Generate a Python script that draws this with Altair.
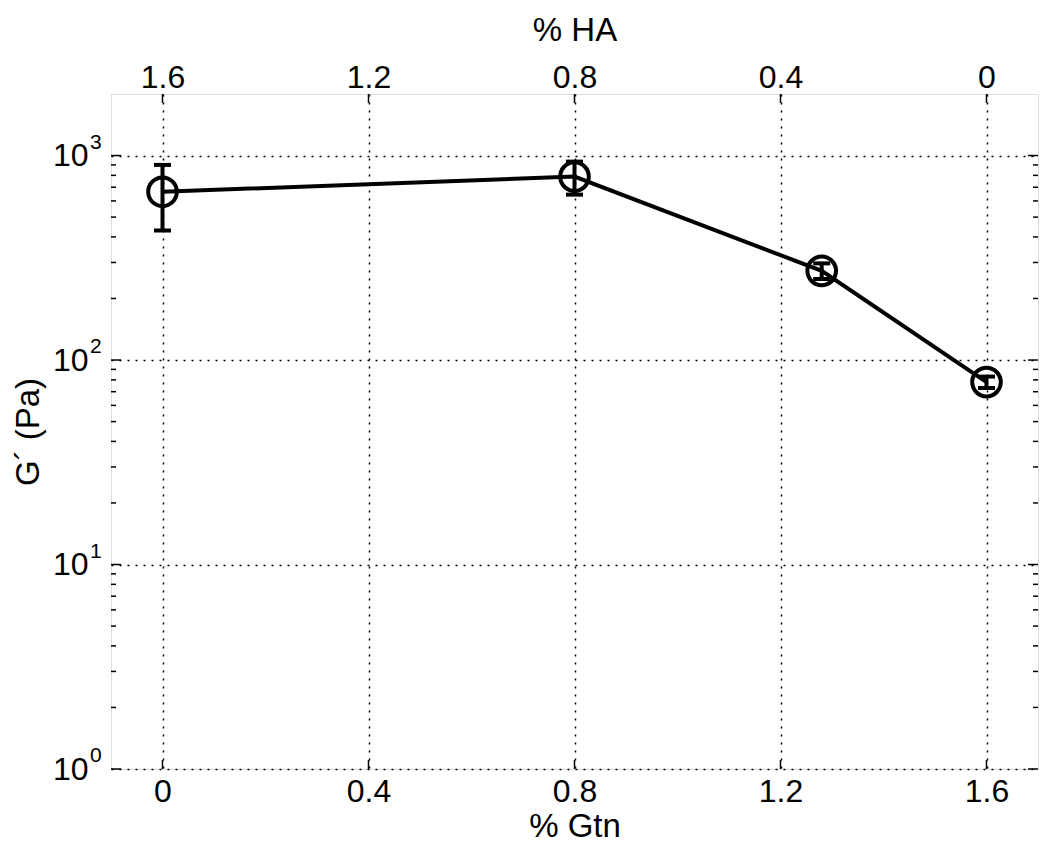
import altair as alt
import pandas as pd

# data
gtn = [0.0, 0.8, 1.28, 1.6]
g_prime = [665, 789, 273, 78]
g_err = [235, 145, 24, 5]

x_ticks = [0, 0.4, 0.8, 1.2, 1.6]
x_labels = ["0", "0.4", "0.8", "1.2", "1.6"]
ha_labels = ["1.6", "1.2", "0.8", "0.4", "0"]
y_major = [1, 10, 100, 1000]
y_exp = ["0", "1", "2", "3"]
y_minor = [2, 3, 4, 5, 6, 7, 8, 9, 20, 30, 40, 50, 60, 70, 80, 90,
           200, 300, 400, 500, 600, 700, 800, 900]

W, H = 927, 675
FONT = "Liberation Sans"
FS = 32
TFS = 33
LW = 4

df = pd.DataFrame({"gtn": gtn, "g": g_prime, "err": g_err})
df["lo"] = df["g"] - df["err"]
df["hi"] = df["g"] + df["err"]

xs = alt.Scale(domain=[-0.1, 1.7], nice=False, zero=False)
ys = alt.Scale(type="log", domain=[1, 2000], nice=False)

def arr(v):
    return "[" + ",".join(repr(a) if isinstance(a, str) else str(a) for a in v) + "]"

bottom_expr = f"{arr(x_labels)}[indexof({arr(x_ticks)}, datum.value)]"
top_expr = f"{arr(ha_labels)}[indexof({arr(x_ticks)}, datum.value)]"

black = "#000000"
common = dict(labelFontSize=FS, titleFontSize=TFS, labelFont=FONT, titleFont=FONT,
              titleFontWeight="normal", labelColor=black, titleColor=black,
              ticks=False, tickSize=0, domain=False)

line = alt.Chart(df).mark_line(color=black, strokeWidth=LW).encode(
    x=alt.X("gtn:Q", scale=xs, title="% Gtn",
            axis=alt.Axis(values=x_ticks, labelExpr=bottom_expr,
                          grid=True, gridDash=[2, 6], gridColor=black,
                          gridWidth=1.5, labelPadding=7, titlePadding=3, **common)),
    y=alt.Y("g:Q", scale=ys, title="G\u00b4 (Pa)",
            axis=alt.Axis(values=y_major, labelExpr="'10'",
                          grid=True, gridDash=[2, 6], gridColor=black,
                          gridWidth=1.5, labelPadding=23, titlePadding=7, **common)),
)

ebar = alt.Chart(df).mark_rule(color=black, strokeWidth=LW, opacity=1).encode(
    x=alt.X("gtn:Q", scale=xs, axis=None),
    y=alt.Y("lo:Q", scale=ys, axis=None),
    y2="hi:Q",
)
cap_lo = alt.Chart(df).mark_tick(color=black, orient="horizontal", size=17, thickness=LW,
                                 opacity=1).encode(
    x=alt.X("gtn:Q", scale=xs, axis=None),
    y=alt.Y("lo:Q", scale=ys, axis=None),
)
cap_hi = alt.Chart(df).mark_tick(color=black, orient="horizontal", size=17, thickness=LW,
                                 opacity=1).encode(
    x=alt.X("gtn:Q", scale=xs, axis=None),
    y=alt.Y("hi:Q", scale=ys, axis=None),
)
points = alt.Chart(df).mark_point(shape="circle", size=820, strokeWidth=LW, color=black,
                                  filled=False, opacity=1).encode(
    x=alt.X("gtn:Q", scale=xs, axis=None),
    y=alt.Y("g:Q", scale=ys, axis=None),
)

xt = pd.DataFrame({"v": x_ticks})
top_ticks = alt.Chart(xt).mark_rule(color=black, strokeWidth=1.5).encode(
    x=alt.X("v:Q", scale=xs, title="% HA",
            axis=alt.Axis(orient="top", values=x_ticks, labelExpr=top_expr,
                          grid=False, labelPadding=0, titlePadding=14, **common)),
    y=alt.value(0), y2=alt.value(9),
)
bot_ticks = alt.Chart(xt).mark_rule(color=black, strokeWidth=1.5).encode(
    x=alt.X("v:Q", scale=xs, axis=None),
    y=alt.value(H), y2=alt.value(H - 9),
)

ym = pd.DataFrame({"v": y_major, "e": y_exp})
yn = pd.DataFrame({"v": y_minor})

def yrule(data, x1, x2):
    return alt.Chart(data).mark_rule(color=black, strokeWidth=1.5).encode(
        y=alt.Y("v:Q", scale=ys, axis=None), x=alt.value(x1), x2=alt.value(x2))

lmaj = yrule(ym, 0, 10)
rmaj = yrule(ym, W - 10, W)
lmin = yrule(yn, 0, 5)
rmin = yrule(yn, W - 5, W)

exps = alt.Chart(ym).mark_text(align="left", baseline="middle", fontSize=21, font=FONT,
                               color=black, dy=-13).encode(
    y=alt.Y("v:Q", scale=ys, axis=None), x=alt.value(-21), text="e:N")

chart = alt.layer(
    line, ebar, cap_lo, cap_hi, points, top_ticks, bot_ticks, lmaj, rmaj, lmin, rmin, exps
).resolve_axis(x="independent", y="independent").properties(
    width=W, height=H,
    autosize="none",
    padding={"left": 103, "top": 86, "right": 4, "bottom": 77},
).configure_view(stroke=black, strokeWidth=2).configure(background="white")

chart.save("out.html", embed_options={"renderer": "svg", "actions": False})
